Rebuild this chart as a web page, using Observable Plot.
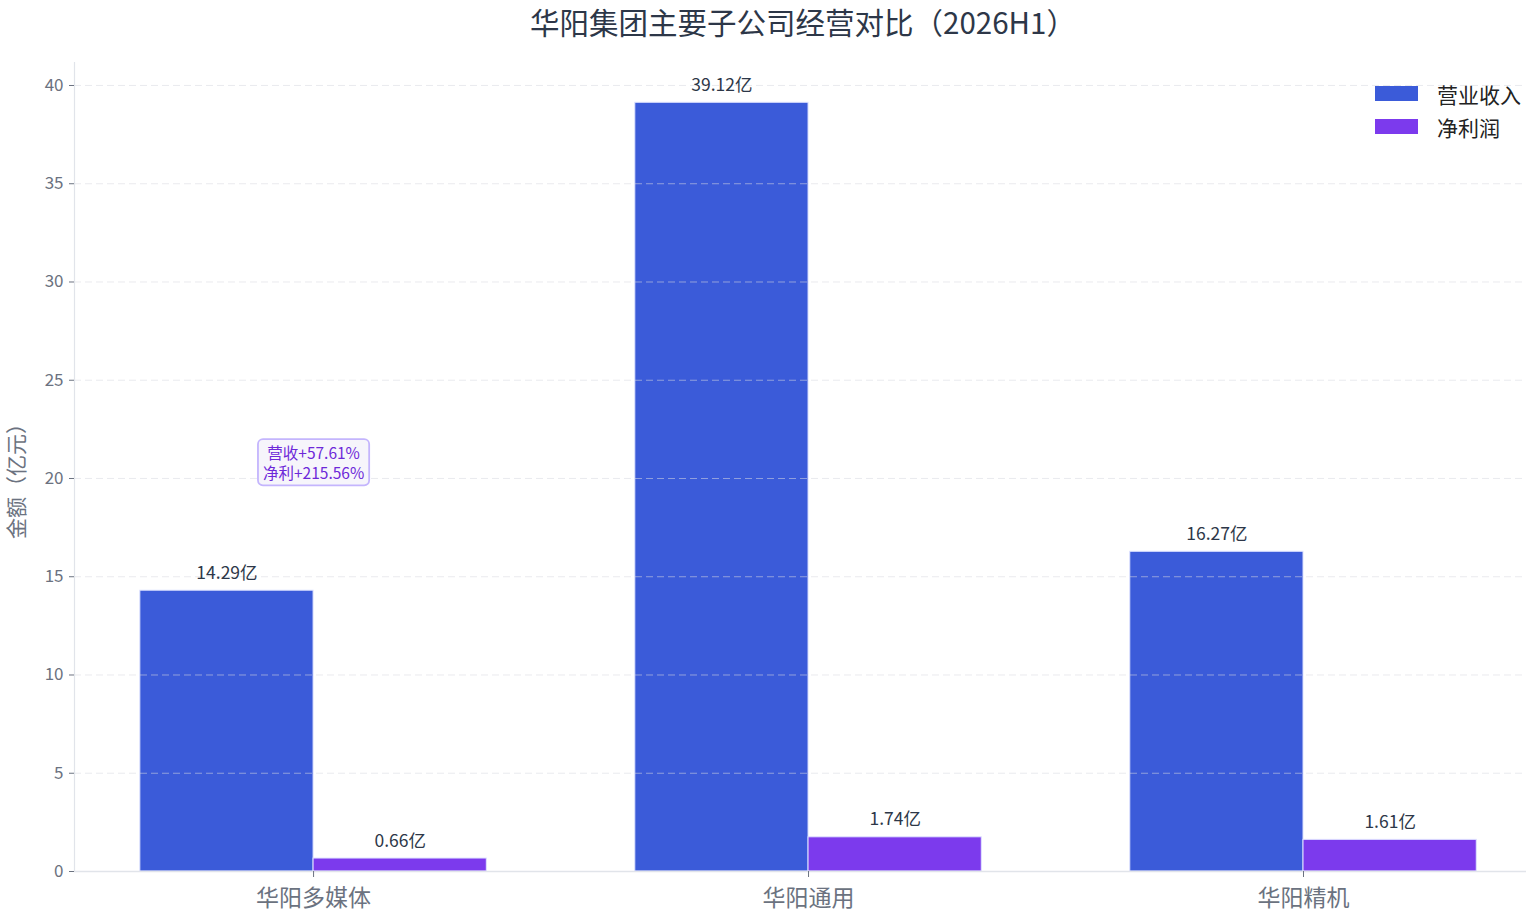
<!DOCTYPE html>
<html><head><meta charset="utf-8">
<script src="https://cdn.jsdelivr.net/npm/d3@7"></script>
<script src="https://cdn.jsdelivr.net/npm/@observablehq/plot@0.6"></script>
<style>
body{margin:0;background:#fff;font-family:"Noto Sans CJK SC","Noto Sans",sans-serif;}
#wrap{position:relative;width:1526px;height:918px;overflow:hidden;}
#title{position:absolute;left:0;top:0px;width:1606px;text-align:center;font-size:29.5px;color:#2d3748;}
#legend{position:absolute;left:1375px;top:77px;font-size:21px;color:#222;}
#legend .row{display:flex;align-items:center;height:33px;}
#legend .sw{width:43px;height:15px;margin-right:19px;}
</style></head>
<body><div id="wrap"><div id="title">华阳集团主要子公司经营对比（2026H1）</div><div id="legend"></div></div>
<script>
const companies = ["华阳多媒体", "华阳通用", "华阳精机"];
const revenue = [14.29, 39.12, 16.27];
const profit = [0.66, 1.74, 1.61];
const seriesNames = ["营业收入", "净利润"];
const seriesColors = ["#3b5bd9", "#7c3aed"];
const yTicks = [0, 5, 10, 15, 20, 25, 30, 35, 40];
const noteCompany = "华阳多媒体";
const noteY = 20.8;
const noteText = "营收+57.61%\n净利+215.56%";

const barW = 0.35;
const rows = [];
companies.forEach((c, i) => {
  rows.push({i, c, s: seriesNames[0], x1: i - barW, x2: i, v: revenue[i]});
  rows.push({i, c, s: seriesNames[1], x1: i, x2: i + barW, v: profit[i]});
});
const fmt = v => v.toFixed(2) + "亿";

const chart = Plot.plot({
  width: 1526, height: 918,
  marginLeft: 74, marginRight: 0, marginTop: 62, marginBottom: 47,
  style: {fontFamily: '"Noto Sans CJK SC","Noto Sans",sans-serif', background: "transparent"},
  x: {type: "linear", domain: [-0.483, 2.4505]},
  y: {domain: [0, 41.17]},
  color: {domain: seriesNames, range: seriesColors},
  marks: [
    Plot.rectY(rows, {x1: "x1", x2: "x2", y1: 0, y2: "v", fill: "s", stroke: "#dfe3ff", strokeWidth: 1}),
    Plot.gridY(yTicks, {stroke: "#d8dbe2", strokeOpacity: 0.55, strokeDasharray: "7,4", strokeWidth: 1}),
    Plot.ruleX([-0.483], {stroke: "#e1e4ea", strokeWidth: 1.2}),
    Plot.ruleY([0], {stroke: "#e1e4ea", strokeWidth: 1.5}),
    Plot.axisY(yTicks, {tickSize: 5, tickPadding: 6, fontSize: 17, color: "#6b7280", stroke: "#6b7280", label: null}),
    Plot.axisX([0, 1, 2], {tickSize: 6, tickPadding: 12, fontSize: 23, color: "#6b7280", stroke: "#6b7280", tickFormat: i => companies[i], label: null}),
    Plot.text(rows, {x: d => (d.x1 + d.x2) / 2, y: "v", text: d => fmt(d.v), lineAnchor: "bottom", dy: -12, fontSize: 17.5, fill: "#2d3748"}),
    Plot.text([noteText], {x: companies.indexOf(noteCompany), y: noteY, text: d => d, fontSize: 15.5, fill: "#6d28d9", lineHeight: 1.3, className: "note"}),
    Plot.text(["金额（亿元）"], {frameAnchor: "left", textAnchor: "middle", dx: -57, dy: 9, rotate: -90, text: d => d, fontSize: 21, fill: "#6b7280"})
  ]
});
document.getElementById("wrap").insertBefore(chart, document.getElementById("legend"));
chart.style.position = "absolute"; chart.style.left = "0"; chart.style.top = "0";

// annotation box
const g = chart.querySelector("g.note");
if (g) {
  const t = g.querySelector("text");
  const bb = t.getBBox();
  const ns = "http://www.w3.org/2000/svg";
  const r = document.createElementNS(ns, "rect");
  r.setAttribute("x", bb.x - 5); r.setAttribute("y", bb.y - 2);
  r.setAttribute("width", bb.width + 10); r.setAttribute("height", bb.height + 4);
  r.setAttribute("rx", 5);
  r.setAttribute("fill", "#f6f5fb"); r.setAttribute("stroke", "#c4b5fd"); r.setAttribute("stroke-width", 1.8);
  const tr = t.getAttribute("transform");
  if (tr) r.setAttribute("transform", tr);
  g.insertBefore(r, t);
}

const lg = document.getElementById("legend");
seriesNames.forEach((s, k) => {
  const row = document.createElement("div"); row.className = "row";
  const sw = document.createElement("div"); sw.className = "sw"; sw.style.background = seriesColors[k];
  const lb = document.createElement("span"); lb.textContent = s;
  row.appendChild(sw); row.appendChild(lb); lg.appendChild(row);
});
</script></body></html>
